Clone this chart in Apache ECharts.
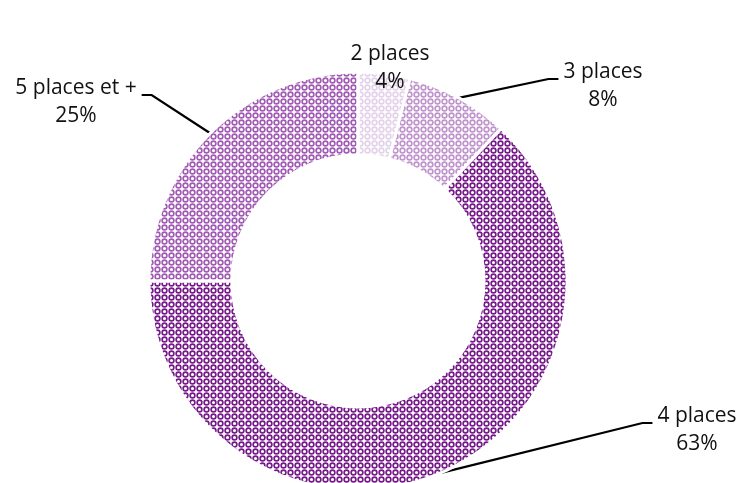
<!DOCTYPE html>
<html>
<head>
<meta charset="utf-8">
<script src="https://cdn.jsdelivr.net/npm/echarts@6/dist/echarts.min.js"></script>
<style>
  html, body { margin: 0; padding: 0; background: #fff; }
  #chart { width: 742px; height: 483px; }
</style>
</head>
<body>
<div id="chart"></div>
<script>
// parts des places
const categories = ['2 places', '3 places', '4 places', '5 places et +'];
const shares = [4, 8, 63, 25];

// couleur des anneaux du motif, par part
const ringColors = ['#e3d2ea', '#c095ce', '#761a8a', '#a25bb4'];
// centre du bloc de texte de chaque étiquette
const labelSpots = [[390, 68], [603, 86], [697, 430], [76, 102]];

function ringPattern(color) {
  let c = document.createElement('canvas');
  c.width = 7;
  c.height = 7;
  let ctx = c.getContext('2d');
  ctx.fillStyle = '#fff';
  ctx.fillRect(0, 0, 7, 7);
  ctx.strokeStyle = color;
  ctx.lineWidth = 1.6;
  ctx.beginPath();
  ctx.arc(3.5, 3.5, 2.4, 0, Math.PI * 2);
  ctx.stroke();
  return c;
}

let pieData = [];
for (let i = 0; i < categories.length; i++) {
  pieData.push({
    name: categories[i],
    value: shares[i],
    itemStyle: { color: { image: ringPattern(ringColors[i]), repeat: 'repeat' } }
  });
}

let myChart = echarts.init(document.getElementById('chart'));
let option = {
  animation: false,
  series: [{
    type: 'pie',
    center: [358, 281],
    radius: [126, 209],
    startAngle: 90,
    clockwise: true,
    silent: true,
    data: pieData,
    itemStyle: { borderColor: '#fff', borderWidth: 3 },
    label: {
      show: true,
      position: 'outside',
      formatter: function (p) { return p.name + '\n' + p.value + '%'; },
      fontFamily: 'Open Sans',
      fontSize: 21,
      lineHeight: 28,
      color: '#111'
    },
    labelLine: {
      show: true,
      length: 20,
      length2: 10,
      lineStyle: { color: '#000', width: 2.2 }
    },
    labelLayout: function (params) {
      let spot = labelSpots[params.dataIndex];
      let res = { x: spot[0], y: spot[1], align: 'center', verticalAlign: 'middle' };
      let pts = params.labelLinePoints;
      if (params.dataIndex === 0 || !pts) {
        res.labelLinePoints = [[spot[0], spot[1]], [spot[0], spot[1]], [spot[0], spot[1]]];
        return res;
      }
      let anchor = pts[0];
      let halfW = params.labelRect.width / 2;
      let lineY = spot[1] - 7;
      let side = anchor[0] > 358 ? -1 : 1;
      let edge = spot[0] + side * (halfW + 5);
      res.labelLinePoints = [anchor, [edge + side * 10, lineY], [edge, lineY]];
      return res;
    }
  }]
};
myChart.setOption(option);
</script>
</body>
</html>
